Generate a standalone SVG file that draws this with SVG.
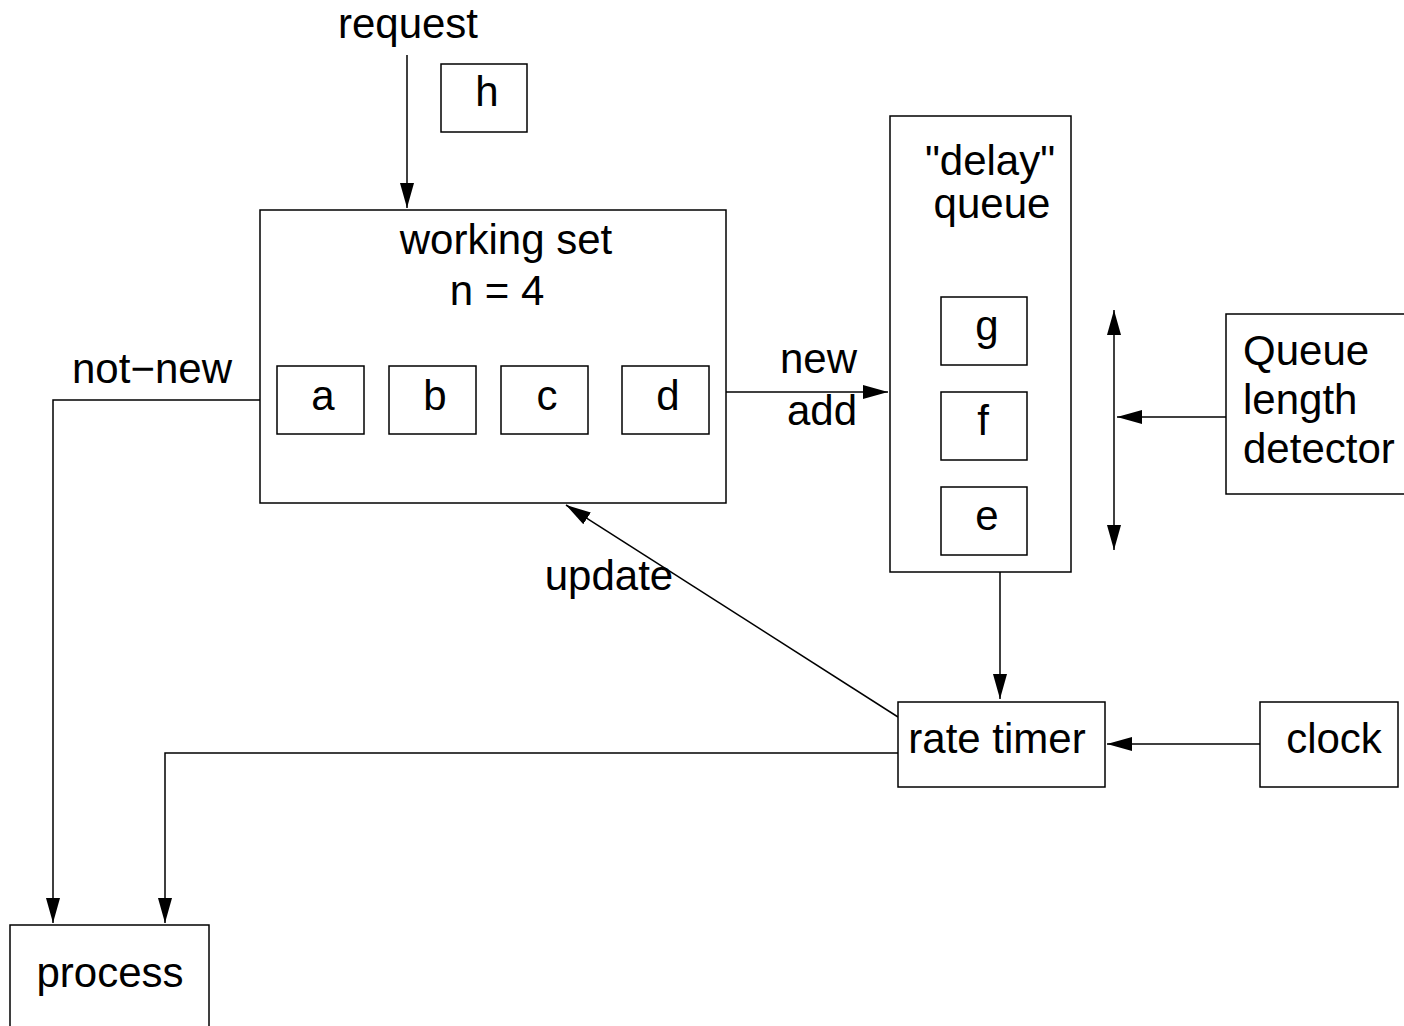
<svg xmlns="http://www.w3.org/2000/svg" width="1404" height="1026" viewBox="0 0 1404 1026">
<style>
rect{fill:#fff;stroke:#000;stroke-width:1.5}
text{font-family:"Liberation Sans",Arial,sans-serif;font-size:42px;fill:#000;text-anchor:middle}
.l{text-anchor:start}
.r{text-anchor:end}
path{fill:none;stroke:#000;stroke-width:1.5}
</style>
<defs>
<marker id="ah" markerUnits="userSpaceOnUse" markerWidth="26" markerHeight="16" refX="25" refY="7" orient="auto-start-reverse" viewBox="0 0 26 14">
<path d="M0,0 L25,7 L0,14 Z" style="fill:#000;stroke:none"/>
</marker>
</defs>
<g id="connectors">
<path d="M407,55 V208" marker-end="url(#ah)"/>
<path d="M283,331 H714" marker-start="url(#ah)" marker-end="url(#ah)"/>
<path d="M260,400 H53 V923" marker-end="url(#ah)"/>
<path d="M898,753 H165 V923" marker-end="url(#ah)"/>
<path d="M726,392 H888" marker-end="url(#ah)"/>
<path d="M1114,310 V550" marker-start="url(#ah)" marker-end="url(#ah)"/>
<path d="M1226,417 H1117" marker-end="url(#ah)"/>
<path d="M1000,572 V699" marker-end="url(#ah)"/>
<path d="M1260,744 H1107" marker-end="url(#ah)"/>
<path d="M898,717 L566,505" marker-end="url(#ah)"/>
</g>
<g id="labels">
<text x="408" y="38">request</text>
<text x="152" y="383">not−new</text>
<text class="r" x="857" y="373">new</text>
<text class="r" x="857" y="425">add</text>
<text x="609" y="590">update</text>
</g>
<g id="h"><rect x="441" y="64" width="86" height="68"/><text x="487" y="106">h</text></g>
<g id="working-set">
<rect x="260" y="210" width="466" height="293"/>
<text x="506" y="254">working set</text>
<text x="497" y="305">n = 4</text>
</g>
<g id="a"><rect x="277" y="366" width="87" height="68"/><text x="323" y="410">a</text></g>
<g id="b"><rect x="389" y="366" width="87" height="68"/><text x="435" y="410">b</text></g>
<g id="c"><rect x="501" y="366" width="87" height="68"/><text x="547" y="410">c</text></g>
<g id="d"><rect x="622" y="366" width="87" height="68"/><text x="668" y="410">d</text></g>
<g id="delay-queue">
<rect x="890" y="116" width="181" height="456"/>
<text x="990" y="175">"delay"</text>
<text x="992" y="218">queue</text>
</g>
<g id="g"><rect x="941" y="297" width="86" height="68"/><text x="987" y="340">g</text></g>
<g id="f"><rect x="941" y="392" width="86" height="68"/><text x="983" y="435">f</text></g>
<g id="e"><rect x="941" y="487" width="86" height="68"/><text x="987" y="530">e</text></g>
<g id="queue-length-detector">
<rect x="1226" y="314" width="190" height="180"/>
<text class="l" x="1243" y="365">Queue</text>
<text class="l" x="1243" y="414">length</text>
<text class="l" x="1243" y="463">detector</text>
</g>
<g id="rate-timer"><rect x="898" y="702" width="207" height="85"/><text x="997" y="753">rate timer</text></g>
<g id="clock"><rect x="1260" y="702" width="138" height="85"/><text x="1334" y="753">clock</text></g>
<g id="process"><rect x="10" y="925" width="199" height="110"/><text x="110" y="987">process</text></g>
</svg>
